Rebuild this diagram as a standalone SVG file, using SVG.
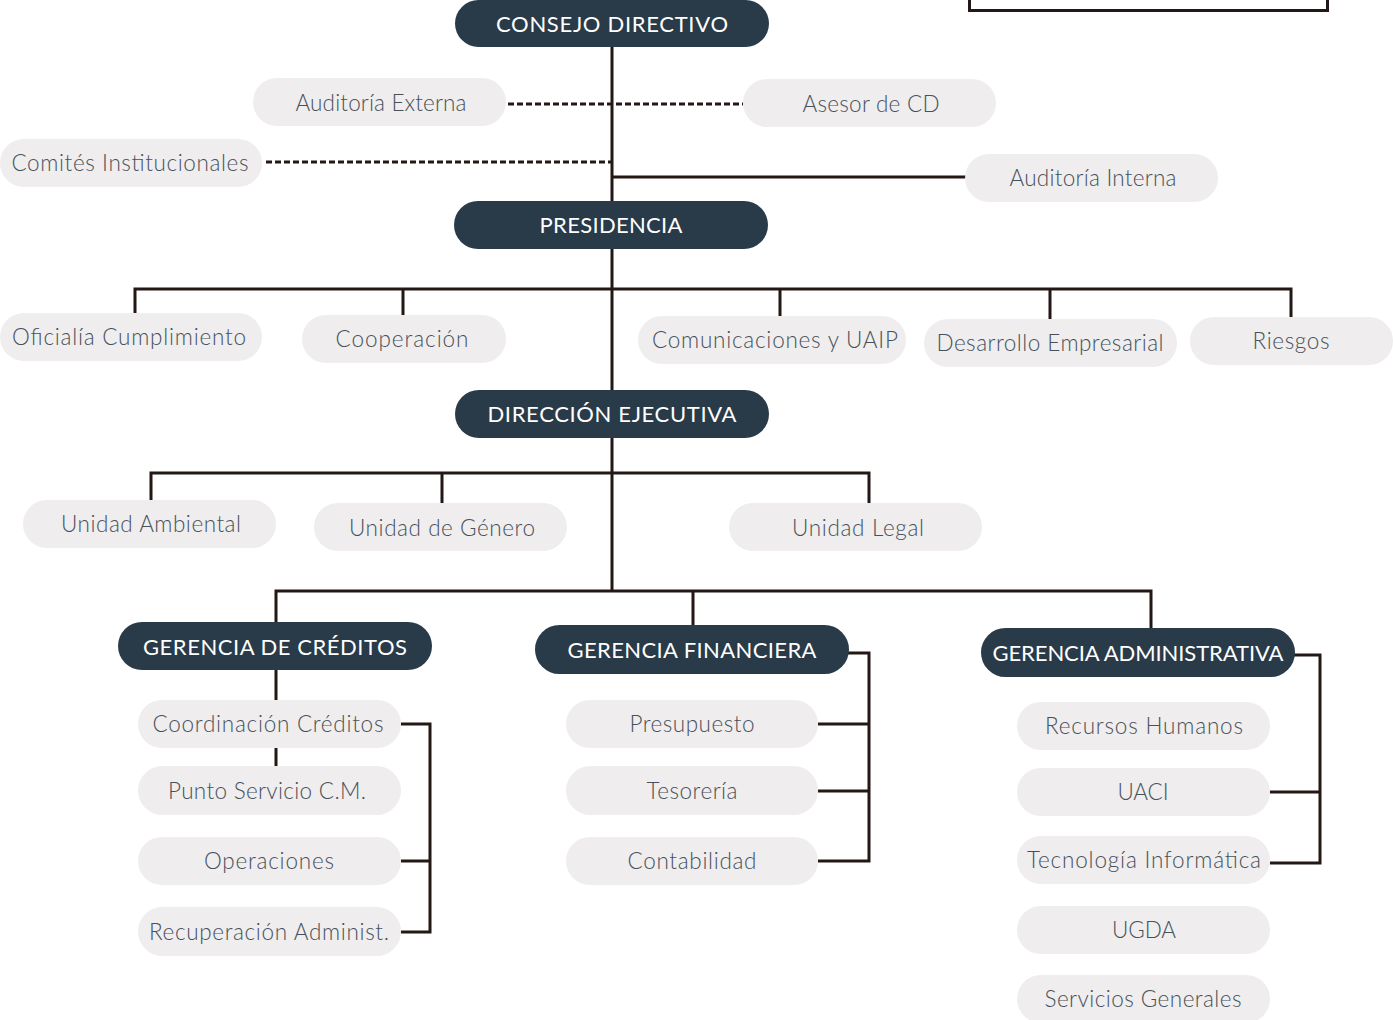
<svg xmlns="http://www.w3.org/2000/svg" width="1393" height="1020" viewBox="0 0 1393 1020">
<style>
.d rect{fill:#293a48}
.d text{fill:#ffffff;font-family:Lato,"Open Sans",sans-serif;font-size:22px;text-anchor:middle;dominant-baseline:central}
.l rect{fill:#efeded}
.l text{fill:#47515b;font-family:Lato,"Open Sans",sans-serif;font-weight:300;font-size:22.5px;text-anchor:middle;dominant-baseline:central}
.c path{fill:none;stroke:#231815;stroke-width:3}
.c .dot{stroke-dasharray:6 3}
</style>
<rect x="969.5" y="-20" width="358" height="30.5" fill="none" stroke="#231815" stroke-width="3"/>
<g class="c" id="connectors">
<path d="M612 40V591"/>
<path class="dot" d="M508 104H743"/>
<path class="dot" d="M266 162H612"/>
<path d="M612 177H967"/>
<path d="M135 314V289H1291V318M403 289V316M780 289V317M1050 289V320"/>
<path d="M151 501V473H869V504M442 473V504"/>
<path d="M276 623V591H1151V629M693 591V626"/>
<path d="M276 668V701M276 747V767"/>
<path d="M401 724H430V932H401M401 861H430"/>
<path d="M847 653H869V861H818M818 724H869M818 791H869"/>
<path d="M1293 655H1320V863H1270M1270 792H1320"/>
</g>
<g class="d" id="consejo"><rect x="455" y="0" width="314" height="47" rx="23.5"/><text x="612" y="23" textLength="232">CONSEJO DIRECTIVO</text></g>
<g class="l" id="aud-ext"><rect x="253" y="78" width="253" height="48" rx="24"/><text x="381" y="102" textLength="171">Auditoría Externa</text></g>
<g class="l" id="asesor"><rect x="743" y="79" width="253" height="48" rx="24"/><text x="871" y="103" textLength="137">Asesor de CD</text></g>
<g class="l" id="comites"><rect x="0" y="139" width="262" height="48" rx="24"/><text x="130" y="162" textLength="237">Comités Institucionales</text></g>
<g class="l" id="aud-int"><rect x="965" y="154" width="253" height="48" rx="24"/><text x="1093" y="177" textLength="167">Auditoría Interna</text></g>
<g class="d" id="presidencia"><rect x="454" y="201" width="314" height="48" rx="24"/><text x="611" y="224" textLength="143">PRESIDENCIA</text></g>
<g class="l" id="oficialia"><rect x="0" y="313" width="262" height="48" rx="24"/><text x="129" y="336" textLength="234">Oficialía Cumplimiento</text></g>
<g class="l" id="cooperacion"><rect x="302" y="315" width="204" height="48" rx="24"/><text x="402" y="338" textLength="133">Cooperación</text></g>
<g class="l" id="comunicaciones"><rect x="638" y="316" width="268" height="48" rx="24"/><text x="775" y="339" textLength="246">Comunicaciones y UAIP</text></g>
<g class="l" id="desarrollo"><rect x="924" y="319" width="253" height="48" rx="24"/><text x="1050" y="342" textLength="227">Desarrollo Empresarial</text></g>
<g class="l" id="riesgos"><rect x="1190" y="317" width="203" height="48" rx="24"/><text x="1291" y="340" textLength="77">Riesgos</text></g>
<g class="d" id="direccion"><rect x="455" y="390" width="314" height="48" rx="24"/><text x="612" y="413" textLength="249">DIRECCIÓN EJECUTIVA</text></g>
<g class="l" id="ambiental"><rect x="23" y="500" width="253" height="48" rx="24"/><text x="151" y="523" textLength="180">Unidad Ambiental</text></g>
<g class="l" id="genero"><rect x="314" y="503" width="253" height="48" rx="24"/><text x="442" y="527" textLength="186">Unidad de Género</text></g>
<g class="l" id="legal"><rect x="729" y="503" width="253" height="48" rx="24"/><text x="858" y="527" textLength="132">Unidad Legal</text></g>
<g class="d" id="g-creditos"><rect x="118" y="622" width="314" height="48" rx="24"/><text x="275" y="646" textLength="264">GERENCIA DE CRÉDITOS</text></g>
<g class="d" id="g-financiera"><rect x="535" y="625" width="314" height="49" rx="24.5"/><text x="692" y="649" textLength="249">GERENCIA FINANCIERA</text></g>
<g class="d" id="g-administrativa"><rect x="981" y="628" width="314" height="49" rx="24.5"/><text x="1138" y="652" textLength="291">GERENCIA ADMINISTRATIVA</text></g>
<g class="l" id="coordinacion"><rect x="138" y="700" width="263" height="48" rx="24"/><text x="268" y="723" textLength="231">Coordinación Créditos</text></g>
<g class="l" id="punto"><rect x="138" y="766" width="263" height="49" rx="24.5"/><text x="267" y="790" textLength="198">Punto Servicio C.M.</text></g>
<g class="l" id="operaciones"><rect x="138" y="837" width="263" height="48" rx="24"/><text x="269" y="860" textLength="130">Operaciones</text></g>
<g class="l" id="recuperacion"><rect x="138" y="907" width="263" height="49" rx="24.5"/><text x="269" y="931" textLength="240">Recuperación Administ.</text></g>
<g class="l" id="presupuesto"><rect x="566" y="700" width="252" height="48" rx="24"/><text x="692" y="723" textLength="125">Presupuesto</text></g>
<g class="l" id="tesoreria"><rect x="566" y="766" width="252" height="49" rx="24.5"/><text x="692" y="790" textLength="91">Tesorería</text></g>
<g class="l" id="contabilidad"><rect x="566" y="837" width="252" height="48" rx="24"/><text x="692" y="860" textLength="129">Contabilidad</text></g>
<g class="l" id="rrhh"><rect x="1017" y="702" width="253" height="48" rx="24"/><text x="1144" y="725" textLength="198">Recursos Humanos</text></g>
<g class="l" id="uaci"><rect x="1017" y="768" width="253" height="48" rx="24"/><text x="1143" y="791" textLength="51">UACI</text></g>
<g class="l" id="tecnologia"><rect x="1017" y="836" width="253" height="48" rx="24"/><text x="1144" y="859" textLength="234">Tecnología Informática</text></g>
<g class="l" id="ugda"><rect x="1017" y="906" width="253" height="48" rx="24"/><text x="1144" y="929" textLength="64">UGDA</text></g>
<g class="l" id="servicios"><rect x="1017" y="975" width="253" height="48" rx="24"/><text x="1143" y="998" textLength="197">Servicios Generales</text></g>
</svg>
